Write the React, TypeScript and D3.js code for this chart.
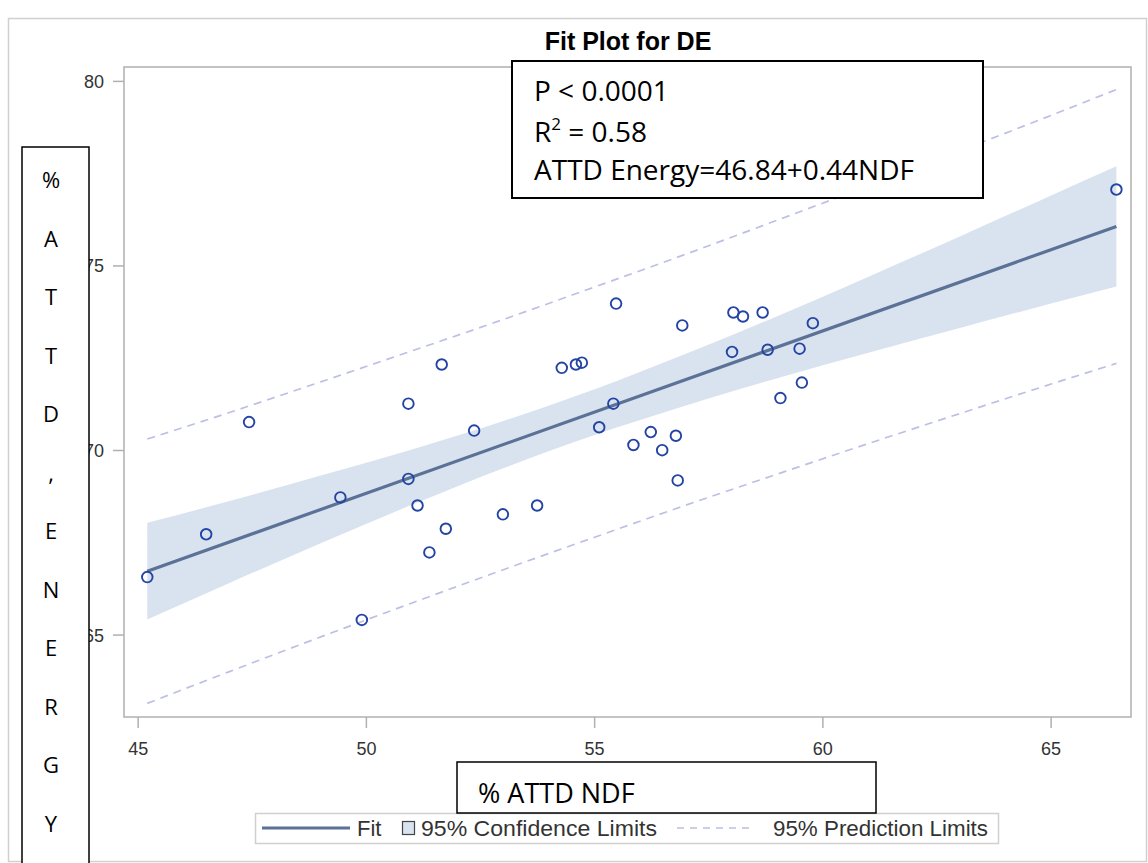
import React from "react";
import * as d3 from "d3";

// Observations (% ATTD NDF vs % ATTD energy)
const ndf = [45.2, 46.49, 47.43, 49.43, 49.9, 50.92, 50.92, 51.12, 51.38, 51.65, 51.74, 52.36, 52.99, 53.74, 54.28, 54.59, 54.72, 55.1, 55.41, 55.47, 55.85, 56.23, 56.48, 56.78, 56.82, 56.92, 58.01, 58.04, 58.25, 58.68, 58.79, 59.07, 59.49, 59.54, 59.78, 66.43];
const energy = [66.57, 67.73, 70.77, 68.73, 65.41, 71.27, 69.23, 68.51, 67.24, 72.33, 67.88, 70.54, 68.27, 68.51, 72.24, 72.33, 72.38, 70.63, 71.27, 73.98, 70.15, 70.5, 70.01, 70.4, 69.19, 73.39, 72.67, 73.74, 73.63, 73.74, 72.73, 71.42, 72.76, 71.84, 73.45, 77.07];

// Fit line end points
const fitX = [45.2, 66.43];
const fitY = [66.73, 76.07];

// Confidence / prediction limits read along the x range
const bandX = [45.2, 47, 49, 51, 53, 55, 57, 59, 61, 63, 65, 66.43];
const ciUpper = [68.04, 68.63, 69.32, 70.03, 70.8, 71.66, 72.62, 73.64, 74.71, 75.8, 76.91, 77.7];
const ciLower = [65.42, 66.41, 67.49, 68.53, 69.52, 70.42, 71.22, 71.96, 72.65, 73.32, 73.98, 74.44];
const piUpper = [70.31, 71.03, 71.86, 72.7, 73.55, 74.43, 75.32, 76.24, 77.17, 78.12, 79.08, 79.78];
const piLower = [63.15, 64.01, 64.95, 65.87, 66.77, 67.65, 68.52, 69.36, 70.19, 71.0, 71.8, 72.36];

const xTicks = [45, 50, 55, 60, 65];
const yTicks = [65, 70, 75, 80];
const yLabelLetters = ["%", "A", "T", "T", "D", ",", "E", "N", "E", "R", "G", "Y"];

const COL_BAND = "#d9e3f0";
const COL_FIT = "#5b7195";
const COL_MARK = "#2444a4";
const COL_PRED = "#bcc0e4";
const COL_AXIS = "#b0b0b0";
const COL_TEXT = "#333333";
const SANS = "'Liberation Sans', Arial, sans-serif";
const CAL = "'Open Sans', 'Noto Sans', sans-serif";

export default function App() {
  const W = 1148, H = 863;
  const L = 124, R = 1131, T = 67, B = 717;
  const x = d3.scaleLinear().domain([44.69, 66.75]).range([L, R]);
  const y = d3.scaleLinear().domain([62.78, 80.39]).range([B, T]);

  const idx = bandX.map((_, i) => i);
  const band = d3
    .area<number>()
    .x((i) => x(bandX[i]))
    .y0((i) => y(ciLower[i]))
    .y1((i) => y(ciUpper[i]))
    .curve(d3.curveMonotoneX)(idx) as string;
  const predLine = (arr: number[]) =>
    d3
      .line<number>()
      .x((i) => x(bandX[i]))
      .y((i) => y(arr[i]))
      .curve(d3.curveMonotoneX)(idx) as string;
  const fitPath = d3
    .line<number>()
    .x((i) => x(fitX[i]))
    .y((i) => y(fitY[i]))([0, 1]) as string;

  const legY = 828;

  return (
    <svg
      width={W}
      height={H}
      style={{ position: "absolute", left: 0, top: 0, background: "#fff" }}
    >
      <rect x={0} y={0} width={W} height={H} fill="#fff" />
      {/* outer frame */}
      <rect x={8.5} y={18.5} width={1138} height={843} fill="none" stroke="#d0d0d0" strokeWidth={1.5} />

      {/* title */}
      <text x={628} y={50} textAnchor="middle" fontFamily={SANS} fontWeight="bold" fontSize={25} fill="#000">
        Fit Plot for DE
      </text>

      {/* plot data */}
      <path d={band} fill={COL_BAND} stroke="none" />
      <path d={predLine(piUpper)} fill="none" stroke={COL_PRED} strokeWidth={1.7} strokeDasharray="8,6" />
      <path d={predLine(piLower)} fill="none" stroke={COL_PRED} strokeWidth={1.7} strokeDasharray="8,6" />
      <path d={fitPath} fill="none" stroke={COL_FIT} strokeWidth={3.2} />
      {ndf.map((v, i) => (
        <circle key={i} cx={x(v)} cy={y(energy[i])} r={5.3} fill="none" stroke={COL_MARK} strokeWidth={1.9} />
      ))}

      {/* plot frame */}
      <rect x={L} y={T} width={R - L} height={B - T} fill="none" stroke={COL_AXIS} strokeWidth={1.5} />

      {/* x axis */}
      {xTicks.map((t) => (
        <g key={"x" + t}>
          <line x1={x(t)} x2={x(t)} y1={B} y2={B + 11} stroke={COL_AXIS} strokeWidth={1.5} />
          <text x={x(t)} y={755} textAnchor="middle" fontFamily={SANS} fontSize={18} fill={COL_TEXT}>
            {t}
          </text>
        </g>
      ))}
      {/* y axis */}
      {yTicks.map((t) => (
        <g key={"y" + t}>
          <line x1={L - 11} x2={L} y1={y(t)} y2={y(t)} stroke={COL_AXIS} strokeWidth={1.5} />
          <text x={104} y={y(t) + 6.5} textAnchor="end" fontFamily={SANS} fontSize={18} fill={COL_TEXT}>
            {t}
          </text>
        </g>
      ))}

      {/* annotation box */}
      <rect x={512} y={61} width={471} height={137} fill="#fff" stroke="#000" strokeWidth={2} />
      <text x={534} y={101} fontFamily={CAL} fontSize={28} fill="#000">P &lt; 0.0001</text>
      <text x={534} y={142} fontFamily={CAL} fontSize={28} fill="#000">
        R<tspan fontSize={17} dy={-12}>2</tspan>
        <tspan dy={12}> = 0.58</tspan>
      </text>
      <text x={534} y={180} fontFamily={CAL} fontSize={28} fill="#000">ATTD Energy=46.84+0.44NDF</text>

      {/* y label box */}
      <rect x={22} y={147} width={67} height={730} fill="#fff" stroke="#000" strokeWidth={1.5} />
      {yLabelLetters.map((c, i) => (
        <text key={"l" + i} x={51} y={188 + i * 58.5} textAnchor="middle" fontFamily={CAL} fontSize={22} fill="#000">
          {c}
        </text>
      ))}

      {/* legend */}
      <rect x={255.5} y={813.5} width={743} height={30} fill="#fff" stroke="#d0d0d0" strokeWidth={1.5} />
      <line x1={262} x2={350} y1={legY} y2={legY} stroke={COL_FIT} strokeWidth={3.2} />
      <text x={357} y={legY + 8} fontFamily={SANS} fontSize={22} fill={COL_TEXT}>Fit</text>
      <rect x={402.5} y={legY - 6.5} width={12} height={13} fill={COL_BAND} stroke="#444" strokeWidth={1.2} />
      <text x={421} y={legY + 8} fontFamily={SANS} fontSize={22} textLength={236} lengthAdjust="spacingAndGlyphs" fill={COL_TEXT}>95% Confidence Limits</text>
      <line x1={677} x2={750} y1={legY} y2={legY} stroke={COL_PRED} strokeWidth={1.7} strokeDasharray="7,6" />
      <text x={773} y={legY + 8} fontFamily={SANS} fontSize={22} textLength={215} lengthAdjust="spacingAndGlyphs" fill={COL_TEXT}>95% Prediction Limits</text>

      {/* x label box */}
      <rect x={457} y={762} width={419} height={51} fill="#fff" stroke="#000" strokeWidth={1.5} />
      <text x={478} y={803} fontFamily={CAL} fontSize={27} fill="#000">% ATTD NDF</text>
    </svg>
  );
}
